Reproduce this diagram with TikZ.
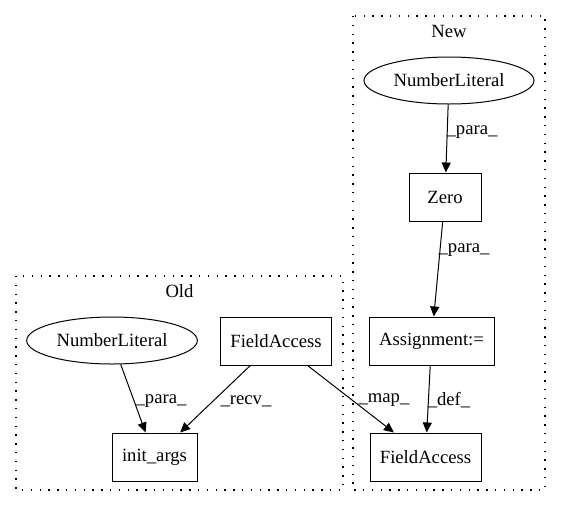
\documentclass[tikz,border=0pt]{standalone}
\usepackage{fontspec}
\setmainfont{Liberation Serif}
\usetikzlibrary{arrows.meta,shapes.geometric}

\tikzset{
  box/.style={draw, rectangle, line width=0.75pt, minimum height=36pt, inner sep=0pt},
  oval/.style={draw, ellipse, line width=0.75pt, minimum width=128pt, minimum height=35.25pt, inner sep=0pt},
  cluster/.style={draw, line width=0.9pt, dash pattern=on 1.1pt off 5.5pt},
  edge/.style={-{Triangle[length=7.5pt,width=6.8pt]}, line width=0.75pt},
  elabel/.style={inner sep=0pt}
}

\begin{document}
\begin{tikzpicture}[x=0.75pt, y=-0.75pt, every node/.style={font=\fontsize{14}{16}\selectfont}]
\useasboundingbox (0,0) rectangle (561,508);

% Old cluster
\draw[cluster] (16,276) rectangle (343,490);
\node (oldlabel) at (179.5,291) {Old};
\node[oval] (oldnum) at (112,340.5) {NumberLiteral};
\node[box, minimum width=83.25pt] (oldfield) at (276,341) {FieldAccess};
\node[box, minimum width=63.75pt] (initargs) at (154.5,457) {init\_args};

% New cluster
\draw[cluster] (353,16) rectangle (545,490);
\node (newlabel) at (449,31) {New};
\node[oval, minimum width=127.5pt] (newnum) at (449,80.5) {NumberLiteral};
\node[box, minimum width=54pt] (zero) at (445,197) {Zero};
\node[box, minimum width=93.75pt] (assign) at (431.5,341) {Assignment:=};
\node[box, minimum width=83.25pt] (newfield) at (425.5,457) {FieldAccess};

% Edges
\draw[edge] (oldnum) -- (initargs);
\node[elabel] (lpara1) at (161,401) {\_para\_};
\draw[edge] (oldfield) -- (initargs);
\node[elabel] (lrecv) at (246,401) {\_recv\_};
\draw[edge] (oldfield) -- (newfield);
\node[elabel] (lmap) at (384,400) {\_map\_};
\draw[edge] (newnum) -- (zero);
\node[elabel] (lpara2) at (472,132) {\_para\_};
\draw[edge] (zero) -- (assign);
\node[elabel] (lpara3) at (464,250) {\_para\_};
\draw[edge] (assign) -- (newfield);
\node[elabel] (ldef) at (449,400) {\_def\_};

\end{tikzpicture}
\end{document}
